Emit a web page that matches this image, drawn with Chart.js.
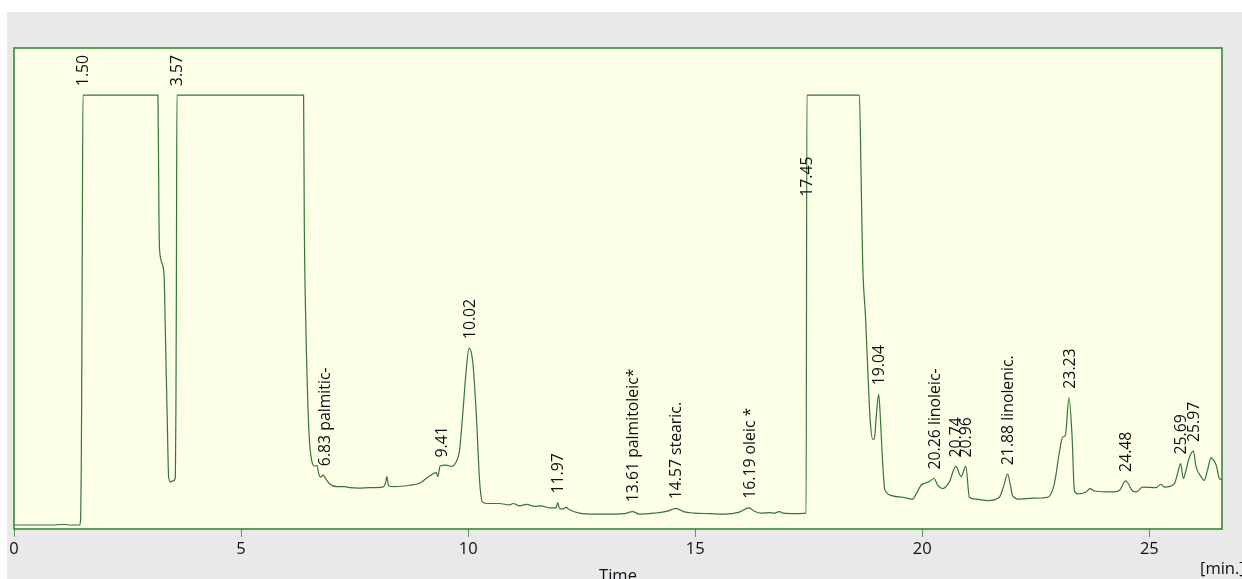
<!DOCTYPE html>
<html>
<head>
<meta charset="utf-8">
<script src="https://cdn.jsdelivr.net/npm/chart.js@4/dist/chart.umd.min.js"></script>
<style>
  html, body { margin: 0; padding: 0; background: #fff; }
  canvas { display: block; }
</style>
</head>
<body>
<canvas id="chromatogram" width="1242" height="579"></canvas>
<script>
// retention time [min] and detector signal (relative units, 0-100 = bottom-top of the plot)
const times = [0, 0.90, 1.01, 1.14, 1.23, 1.446, 1.468, 1.481, 1.490, 1.503, 1.519,
  3.170, 3.192, 3.207, 3.302, 3.333, 3.377, 3.405, 3.443, 3.500, 3.553, 3.566, 3.575, 3.588,
  6.377, 6.392, 6.421, 6.472, 6.509, 6.560, 6.619, 6.674, 6.707, 6.751, 6.806, 6.861, 6.949, 7.103,
  7.279, 7.389, 7.609, 7.829, 8.116, 8.182, 8.210, 8.248, 8.380, 8.710, 8.930, 9.150, 9.298, 9.333,
  9.382, 9.518, 9.628, 9.738, 9.811, 9.883, 9.958, 10.020,
  10.104, 10.178, 10.251, 10.310, 10.405, 10.691, 10.911, 10.988, 11.131, 11.286, 11.462, 11.607,
  11.704, 11.792, 11.935, 11.975, 12.012, 12.100, 12.155, 12.232, 12.452, 12.782, 13.113, 13.443,
  13.619, 13.773, 14.103, 14.389, 14.576, 14.741, 14.984, 15.314, 15.644, 15.974, 16.183, 16.304,
  16.458, 16.634, 16.744, 16.854, 16.943, 17.185, 17.442,
  17.460, 18.616, 18.653, 18.688, 18.748, 18.798, 18.851, 18.908, 18.946, 18.983, 19.040, 19.078,
  19.115, 19.166, 19.203, 19.349, 19.569, 19.789, 19.864, 19.974, 20.084, 20.157, 20.260, 20.339,
  20.449, 20.596, 20.740, 20.854, 20.960, 21.037, 21.185, 21.440, 21.697, 21.785, 21.880, 21.940,
  21.990, 22.138, 22.430, 22.761, 22.908, 23.018, 23.091, 23.150, 23.230,
  23.298, 23.349, 23.421, 23.606, 23.694, 23.789, 24.192, 24.339, 24.480, 24.632, 24.707, 24.852,
  25.147, 25.257, 25.330, 25.550, 25.623, 25.690, 25.747, 25.791, 25.879, 25.970, 26.027, 26.137,
  26.210, 26.282, 26.357, 26.430, 26.481, 26.541, 26.595];

const signal = [0.83, 0.83, 0.94, 0.94, 0.83, 0.83, 2.3, 12.3, 26.8, 58.0, 90.2,
  90.2, 64.7, 57.8, 53.2, 41.0, 21.6, 10.9, 9.8, 10.0, 10.6, 25.6, 48.5, 90.2,
  90.2, 63.9, 44.7, 25.6, 17.9, 14.0, 13.1, 13.2, 11.6, 10.8, 11.2, 10.5, 9.4, 8.8,
  8.8, 8.6, 8.5, 8.6, 8.7, 9.6, 10.9, 9.0, 8.8, 9.1, 9.5, 11.0, 11.7, 10.9,
  13.1, 13.3, 13.0, 14.0, 16.4, 24.1, 33.1, 37.6,
  34.5, 24.1, 10.2, 5.7, 5.3, 5.3, 5.0, 5.3, 4.8, 5.1, 4.7, 4.8,
  4.6, 4.4, 4.4, 5.5, 4.2, 4.2, 4.5, 4.0, 3.3, 3.1, 3.1, 3.2,
  3.6, 3.1, 3.3, 3.7, 4.3, 3.6, 3.3, 3.2, 3.1, 3.5, 4.4, 3.7,
  3.3, 3.4, 3.3, 3.6, 3.3, 3.2, 3.3,
  90.2, 90.2, 73.1, 55.2, 44.5, 33.7, 23.0, 18.7, 18.7, 23.0, 28.0, 23.0,
  15.9, 8.7, 7.7, 6.9, 6.6, 6.2, 7.3, 9.1, 9.6, 9.9, 10.5, 9.1,
  8.4, 9.8, 13.0, 10.9, 13.0, 6.6, 6.2, 5.9, 6.6, 8.7, 11.4, 9.1,
  6.9, 6.2, 6.4, 6.6, 9.4, 15.9, 19.1, 19.4, 27.3,
  19.4, 8.0, 7.3, 7.7, 8.4, 7.9, 7.7, 8.0, 10.0, 7.9, 7.7, 8.7,
  8.6, 9.3, 8.7, 9.4, 11.6, 13.6, 10.5, 11.6, 14.8, 16.2, 13.0, 10.9,
  10.1, 12.3, 14.8, 14.1, 13.0, 10.5, 10.3];

// peak annotations
const peakTimes = [1.50, 3.57, 6.83, 9.41, 10.02, 11.97, 13.61, 14.57, 16.19, 17.45,
  19.04, 20.26, 20.74, 20.96, 21.88, 23.23, 24.48, 25.69, 25.97];
const peakNames = ['', '', 'palmitic-', '', '', '', 'palmitoleic*', 'stearic.', 'oleic *', '',
  '', 'linoleic-', '', '', 'linolenic.', '', '', '', ''];
const peakHeights = [90.2, 90.2, 11.2, 13.0, 37.6, 5.5, 3.7, 4.3, 4.4, 67.2,
  28.0, 10.5, 13.0, 13.0, 11.4, 27.3, 10.0, 13.6, 16.2];

const xTicks = [0, 5, 10, 15, 20, 25];

const frameColor = '#2f7f2f';
const textColor = '#0e0e16';
const labelFont = '15.8px "Open Sans", "Liberation Sans", sans-serif';
const axisFont = '16.5px "Open Sans", "Liberation Sans", sans-serif';

const backdrop = {
  id: 'backdrop',
  beforeDraw(chart) {
    const { ctx, chartArea: a, width, height } = chart;
    ctx.save();
    ctx.fillStyle = '#ffffff';
    ctx.fillRect(0, 0, width, height);
    ctx.fillStyle = '#e9e9e9';
    ctx.fillRect(7, 12, width - 7, height - 12);
    ctx.fillStyle = '#fdfee6';
    ctx.fillRect(a.left, a.top, a.right - a.left, a.bottom - a.top);
    ctx.restore();
  },
  afterDraw(chart) {
    const { ctx, chartArea: a } = chart;
    ctx.save();
    ctx.strokeStyle = frameColor;
    ctx.lineWidth = 1.5;
    ctx.strokeRect(a.left, a.top, a.right - a.left, a.bottom - a.top);
    ctx.fillStyle = textColor;
    ctx.font = axisFont;
    ctx.textBaseline = 'alphabetic';
    ctx.textAlign = 'center';
    ctx.fillText('Time', (a.left + a.right) / 2, 581);
    ctx.textAlign = 'left';
    ctx.fillText('[min.]', 1200, 574);
    ctx.restore();
  }
};

const peakLabels = {
  id: 'peakLabels',
  afterDatasetsDraw(chart) {
    const { ctx, scales: { x, y } } = chart;
    ctx.save();
    ctx.fillStyle = textColor;
    ctx.font = labelFont;
    ctx.textAlign = 'left';
    ctx.textBaseline = 'alphabetic';
    peakTimes.forEach((t, i) => {
      const px = x.getPixelForValue(t);
      const py = y.getPixelForValue(peakHeights[i]) - 9;
      const text = t.toFixed(2) + (peakNames[i] ? ' ' + peakNames[i] : '');
      ctx.save();
      ctx.translate(px, py);
      ctx.rotate(-Math.PI / 2);
      ctx.fillText(text, 0, 5.6);
      ctx.restore();
    });
    ctx.restore();
  }
};

new Chart(document.getElementById('chromatogram'), {
  type: 'line',
  data: {
    datasets: [{
      label: 'Signal',
      data: times.map((t, i) => ({ x: t, y: signal[i] })),
      borderColor: '#357535',
      borderWidth: 1.2,
      pointRadius: 0,
      cubicInterpolationMode: 'monotone',
      fill: false
    }]
  },
  options: {
    responsive: false,
    animation: false,
    layout: { padding: { left: 14, right: 20, top: 48, bottom: 0 } },
    plugins: {
      legend: { display: false },
      tooltip: { enabled: false }
    },
    scales: {
      x: {
        type: 'linear',
        min: 0,
        max: 26.6,
        afterBuildTicks: (scale) => { scale.ticks = xTicks.map(v => ({ value: v })); },
        afterFit: (scale) => { scale.height = 50; },
        border: { display: false },
        grid: { drawOnChartArea: false, drawTicks: true, tickLength: 8, color: '#5f9a5f' },
        ticks: {
          padding: 2,
          maxRotation: 0,
          color: textColor,
          font: { family: '"Open Sans", "Liberation Sans", sans-serif', size: 16.5 }
        }
      },
      y: {
        display: false,
        min: 0,
        max: 100
      }
    }
  },
  plugins: [backdrop, peakLabels]
});
</script>
</body>
</html>
